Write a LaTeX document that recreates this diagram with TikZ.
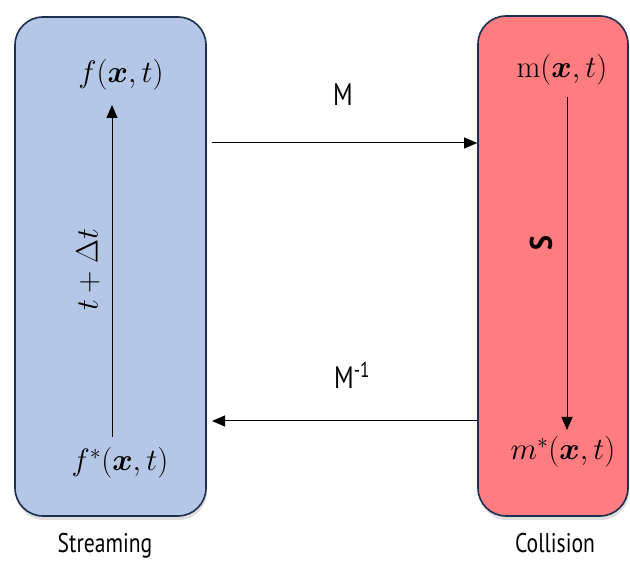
\RequirePackage{fix-cm}
\documentclass[tikz,border=0pt]{standalone}
\usepackage{fontspec}
\usepackage{amsmath}
\usepackage{bm}
\newfontfamily\labelfont{PT Sans}
\usetikzlibrary{shadows,arrows.meta}
\definecolor{boxblue}{HTML}{B4C7E7}
\definecolor{boxred}{HTML}{FF7C80}
\definecolor{boxedge}{HTML}{1F2F4F}
\tikzset{
  panel/.style={draw=boxedge, line width=1.6pt, rounded corners=28pt,
    drop shadow={shadow xshift=1pt, shadow yshift=-4pt, opacity=0.25}},
  mathlbl/.style={inner sep=0pt, font=\fontsize{31}{36}\selectfont},
  sanslbl/.style={inner sep=0pt, font=\labelfont\fontsize{31}{36}\selectfont},
  caplbl/.style={inner sep=0pt, anchor=base, font=\labelfont\fontsize{27}{32}\selectfont},
  conn/.style={line width=1pt, -{Triangle[length=13pt,width=11pt]}}
}
\begin{document}
\begin{tikzpicture}[x=1pt,y=-1pt]
\useasboundingbox (0,0) rectangle (630,561);
\fill[white] (0,0) rectangle (630,561);
\node[panel, fill=boxblue, minimum width=191pt, minimum height=499pt] (lbox) at (110.5,266.5) {};
\node[panel, fill=boxred, minimum width=150pt, minimum height=500pt] (rbox) at (553,266) {};
% left box texts
\node[mathlbl] (f) at (121,75) {$f(\bm{x},t)$};
\node[mathlbl] (fs) at (120,463) {$f^{*}(\bm{x},t)$};
\coordinate (fbot) at (112,437);
\coordinate (ftop) at (112,105);
\draw[conn] (fbot) -- (ftop);
\node[mathlbl, rotate=90] (dt) at (88,270) {$t+\Delta t$};
% right box texts
\node[mathlbl] (m) at (562,70) {$\mathrm{m}(\bm{x},t)$};
\node[mathlbl] (ms) at (563,452) {$m^{*}(\bm{x},t)$};
\coordinate (mtop) at (567,97);
\coordinate (mbot) at (567,430);
\draw[conn] (mtop) -- (mbot);
\node[sanslbl, rotate=90] (S) at (541,243) {\scalebox{0.9}[1]{\bfseries S}};
% connectors between boxes
\coordinate (a1) at (212,143);
\draw[conn] (a1) -- (rbox.west |- a1);
\coordinate (a2) at (212,421);
\draw[conn] (rbox.west |- a2) -- (a2);
\node[sanslbl] (M) at (343,95) {\scalebox{0.8}[1]{M}};
\node[sanslbl] (Mi) at (352,375) {\scalebox{0.8}[1]{M\textsuperscript{-1}}};
% captions
\node[caplbl] (st) at (105,552) {\scalebox{0.8}[1]{Streaming}};
\node[caplbl] (co) at (555,552) {\scalebox{0.8}[1]{Collision}};
\end{tikzpicture}
\end{document}
